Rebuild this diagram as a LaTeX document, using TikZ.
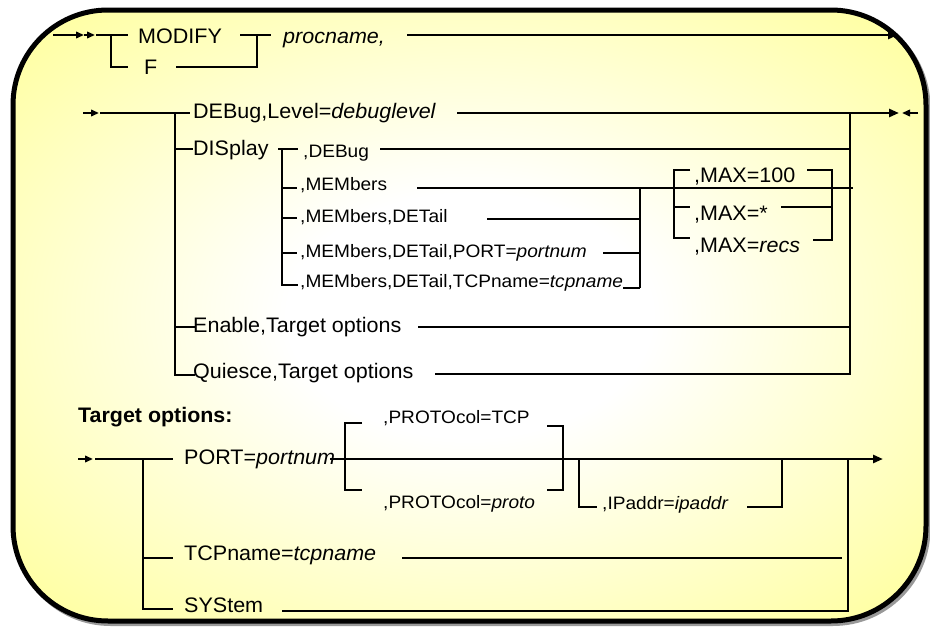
\documentclass[tikz,border=0pt]{standalone}
\usepackage{fontspec}
\setmainfont{Liberation Sans}
\usetikzlibrary{arrows.meta}
\definecolor{myyellow}{RGB}{255,255,153}
\pgfdeclareradialshading{glow}{\pgfpoint{0bp}{0bp}}{color(0bp)=(white);color(10bp)=(white);color(36bp)=(myyellow);color(50bp)=(myyellow)}
\newcommand\mainf{\fontsize{21}{24}\selectfont}
\newcommand\smallf{\fontsize{18}{21}\selectfont}
\begin{document}
\begin{tikzpicture}[x=1pt,y=-1pt,
  ln/.style={line width=2.9pt},
  arr/.style={line width=2.9pt,-{Triangle[length=10pt,width=8pt]}},
  sarr/.style={line width=2.9pt,-{Triangle[length=8pt,width=6.5pt]}},
  txt/.style={anchor=base west,inner sep=0pt,font=\mainf,xscale=1.025},
  stxt/.style={anchor=base west,inner sep=0pt,font=\smallf,xscale=1.06},
  btxt/.style={anchor=base west,inner sep=0pt,font=\mainf\bfseries,xscale=1.02}]
\useasboundingbox (0,0) rectangle (930,629);
% frame
\draw[black!40,line width=5pt,rounded corners=95pt] (15.5,12.5) rectangle (928,623.5);
\shade[shading=glow,rounded corners=95pt] (13,10) rectangle (926,621);
\draw[line width=5pt,rounded corners=95pt] (13,10) rectangle (926,621);

% ---- line 1
\draw[sarr] (53,35) -- (84,35);
\draw[sarr] (84,35) -- (95,35);
\draw[ln] (96,35) -- (128,35);
\draw[ln] (111,35) -- (111,67) -- (128,67);
\node[txt] (modify) at (138,43) {MODIFY};
\node[txt] (f) at (144,74) {F};
\draw[ln] (240,35) -- (271,35);
\draw[ln] (176,67) -- (257,67) -- (257,35);
\node[txt] (procname) at (283,43) {\itshape procname,};
\draw[arr] (407,35) -- (898,35);

% ---- line 2
\draw[sarr] (83,113) -- (99,113);
\draw[ln] (100,113) -- (190,113);
\draw[ln] (175,113) -- (175,375) -- (195,375);
\draw[ln] (175,149) -- (193,149);
\draw[ln] (175,327) -- (195,327);
\node[txt] (debug) at (193,118) {DEBug,Level=\textit{debuglevel}};
\draw[arr] (457,113) -- (899,113);
\draw[sarr] (918,113) -- (902,113);
\draw[ln] (850,113) -- (850,374) -- (435,374);
\node[txt] (display) at (193,155) {DISplay};
\draw[ln] (278,149) -- (298,149);
\draw[ln] (282,149) -- (282,285) -- (298,285);
\draw[ln] (282,188) -- (297,188);
\draw[ln] (282,218) -- (297,218);
\draw[ln] (282,253) -- (297,253);
\node[stxt] (ddebug) at (303,157) {,DEBug};
\node[stxt] (mem) at (300,190) {,MEMbers};
\node[stxt] (memdet) at (300,222) {,MEMbers,DETail};
\node[stxt] (memport) at (300,257) {,MEMbers,DETail,PORT=\textit{portnum}};
\node[stxt] (memtcp) at (300,287) {,MEMbers,DETail,TCPname=\textit{tcpname}};
\draw[ln] (380,149) -- (850,149);
\draw[ln] (417,188) -- (853,188);
\draw[ln] (487,219) -- (640,219);
\draw[ln] (603,253) -- (640,253);
\draw[ln] (623,288) -- (640,288);
\draw[ln] (640,188) -- (640,288);
% MAX bracket
\draw[ln] (690,170) -- (674,170) -- (674,238) -- (690,238);
\draw[ln] (674,207) -- (690,207);
\node[txt] (max100) at (694,182) {,MAX=100};
\node[txt] (maxstar) at (694,220) {,MAX=*};
\node[txt] (maxrecs) at (694,252) {,MAX=\textit{recs}};
\draw[ln] (807,170) -- (832,170) -- (832,240) -- (813,240);
\draw[ln] (781,207) -- (832,207);
% Enable / Quiesce
\node[txt] (enable) at (193,332) {Enable,Target options};
\draw[ln] (418,327) -- (850,327);
\node[txt] (quiesce) at (193,378) {Quiesce,Target options};

% ---- Target options
\node[btxt] (target) at (78,422) {Target options:};
\draw[sarr] (78,459) -- (93,459);
\draw[ln] (95,459) -- (173,459);
\draw[ln] (143,459) -- (143,609) -- (173,609);
\draw[ln] (143,558) -- (173,558);
\node[txt] (port) at (184,464) {PORT=\textit{portnum}};
\draw[arr] (330,459) -- (883,459);
\draw[ln] (362,423) -- (345,423) -- (345,490) -- (362,490);
\node[stxt] (ptcp) at (383,423) {,PROTOcol=TCP};
\node[stxt] (pproto) at (383,508) {,PROTOcol=\textit{proto}};
\draw[ln] (547,426) -- (563,426) -- (563,490) -- (547,490);
\draw[ln] (579,459) -- (579,507) -- (597,507);
\node[stxt] (ipaddr) at (602,509) {,IPaddr=\textit{ipaddr}};
\draw[ln] (747,507) -- (782,507) -- (782,459);
\node[txt] (tcpname) at (184,560) {TCPname=\textit{tcpname}};
\draw[ln] (402,558) -- (842,558);
\node[txt] (system) at (184,612) {SYStem};
\draw[ln] (848,459) -- (848,611) -- (282,611);
\end{tikzpicture}
\end{document}
